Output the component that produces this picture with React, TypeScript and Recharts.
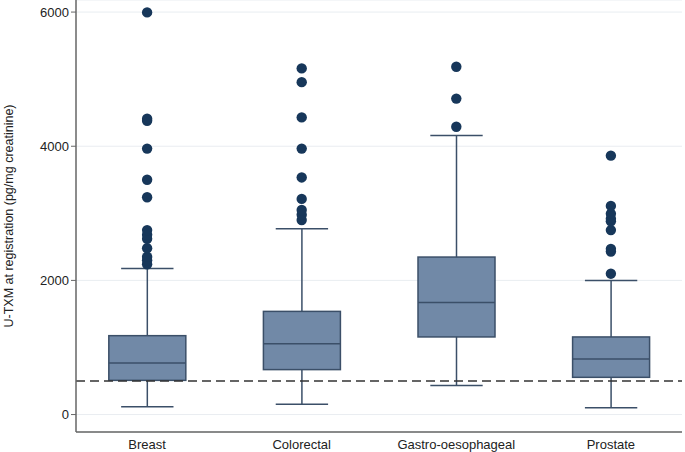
import React from "react";
import {
    ComposedChart,
    Bar,
    Scatter,
    XAxis,
    YAxis,
    CartesianGrid,
    ReferenceLine,
} from "recharts";

const categories = ["Breast", "Colorectal", "Gastro-oesophageal", "Prostate"];
const lowWhisker = [115, 154, 432, 100];
const q1 = [510, 670, 1157, 555];
const median = [770, 1057, 1672, 829];
const q3 = [1176, 1538, 2348, 1157];
const highWhisker = [2178, 2770, 4160, 2000];

const breastOutliers = [2240, 2300, 2350, 2480, 2620, 2680, 2750, 3240, 3500, 3965, 4380, 4410, 5995];
const colorectalOutliers = [2900, 2980, 3050, 3215, 3535, 3965, 4430, 4955, 5160];
const gastroOutliers = [4290, 4710, 5185];
const prostateOutliers = [2100, 2430, 2470, 2750, 2880, 2920, 2995, 3110, 3860];

const yTicks = [0, 2000, 4000, 6000];
const threshold = 500;
const yLabel = "U-TXM at registration (pg/mg creatinine)";

const boxData = categories.map((name, i) => ({
    pos: i + 1,
    name,
    low: lowWhisker[i],
    q1: q1[i],
    median: median[i],
    q3: q3[i],
    high: highWhisker[i],
}));

const outlierData = [breastOutliers, colorectalOutliers, gastroOutliers, prostateOutliers].flatMap(
    (list, i) => list.map((v) => ({ pos: i + 1, value: v }))
);

const BOX_FILL = "#7189a7";
const BOX_STROKE = "#3b4f68";
const DOT = "#17375a";

function BoxShape(props: any) {
    const { x, y, width, height, payload } = props;
    if (!payload || !height) return null;
    const { low, q1, median, q3, high } = payload;
    const per = height / (high - low);
    const toY = (v: number) => y + (high - v) * per;
    const cx = x + width / 2;
    const cap = width * 0.34;
    return (
        <g>
            <line x1={cx} x2={cx} y1={toY(high)} y2={toY(low)} stroke={BOX_STROKE} strokeWidth={1.5} />
            <line x1={cx - cap} x2={cx + cap} y1={toY(high)} y2={toY(high)} stroke={BOX_STROKE} strokeWidth={1.5} />
            <line x1={cx - cap} x2={cx + cap} y1={toY(low)} y2={toY(low)} stroke={BOX_STROKE} strokeWidth={1.5} />
            <rect
                x={x}
                y={toY(q3)}
                width={width}
                height={toY(q1) - toY(q3)}
                fill={BOX_FILL}
                stroke={BOX_STROKE}
                strokeWidth={1.5}
            />
            <line x1={x} x2={x + width} y1={toY(median)} y2={toY(median)} stroke={BOX_STROKE} strokeWidth={1.5} />
        </g>
    );
}

function YLabel(props: any) {
    const vb = props.viewBox || {};
    const cy = (vb.y || 0) + (vb.height || 0) / 2;
    const cx = 9;
    return (
        <text
            x={cx}
            y={cy}
            transform={`rotate(-90 ${cx} ${cy})`}
            textAnchor="middle"
            dominantBaseline="central"
            fontSize={12.5}
            fill="#222"
        >
            {yLabel}
        </text>
    );
}

export default function App() {
    return (
        <div style={{ position: "absolute", left: 0, top: 0, fontFamily: "'Liberation Sans', Arial, sans-serif" }}>
            <ComposedChart data={boxData} width={685} height={452} margin={{ top: 0, right: 3, bottom: 0, left: 0 }}>
                <CartesianGrid vertical={false} stroke="#e9edf1" />
                <XAxis
                    dataKey="pos"
                    type="number"
                    domain={[0.54, 4.46]}
                    allowDataOverflow
                    ticks={[1, 2, 3, 4]}
                    tickFormatter={(v) => categories[v - 1]}
                    tickLine={false}
                    axisLine={{ stroke: "#666", strokeWidth: 1.5 }}
                    tick={{ fontSize: 13, fill: "#222" }}
                    tickMargin={2}
                    height={20}
                />
                <YAxis
                    type="number"
                    domain={[-260, 6180]}
                    allowDataOverflow
                    ticks={yTicks}
                    width={76}
                    axisLine={{ stroke: "#666", strokeWidth: 1.5 }}
                    tickLine={{ stroke: "#666" }}
                    tickSize={5}
                    tick={{ fontSize: 13, fill: "#222" }}
                    label={<YLabel />}
                />
                <Bar
                    dataKey={(d: any) => [d.low, d.high]}
                    barSize={77}
                    shape={<BoxShape />}
                    isAnimationActive={false}
                />
                <Scatter
                    data={outlierData}
                    dataKey="value"
                    fill={DOT}
                    shape={(p: any) => <circle cx={p.cx} cy={p.cy} r={5.2} fill={DOT} />}
                    isAnimationActive={false}
                />
                <ReferenceLine y={threshold} stroke="#333" strokeWidth={1.6} strokeDasharray="9 5" />
            </ComposedChart>
        </div>
    );
}
